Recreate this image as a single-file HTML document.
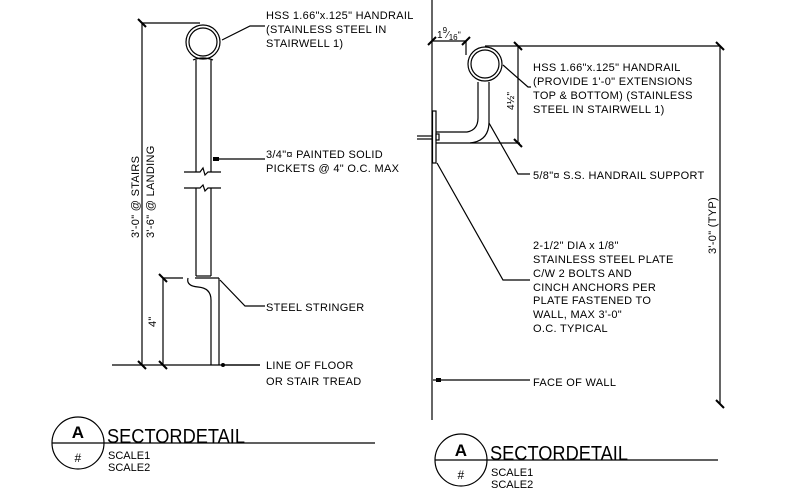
<!DOCTYPE html>
<html><head><meta charset="utf-8"><style>
html,body{margin:0;padding:0;background:#fff;}
svg{display:block;}
text{font-family:"Liberation Sans",sans-serif;font-size:11px;fill:#000;letter-spacing:0.3px;}
.t{font-size:20px;font-weight:300;letter-spacing:0;}
.s{font-size:11px;letter-spacing:0;}
</style></head><body>
<svg width="807" height="491" viewBox="0 0 807 491" xmlns="http://www.w3.org/2000/svg">
<g stroke="#000" stroke-width="1.2" fill="none">
<circle cx="203" cy="42" r="17"/>
<circle cx="203" cy="42" r="14"/>
<path d="M193 60 Q203 56 213 60"/>
<line x1="196" y1="60" x2="196" y2="172"/><line x1="211" y1="60" x2="211" y2="172"/>
<line x1="196" y1="188" x2="196" y2="276"/><line x1="211" y1="188" x2="211" y2="276"/>
<path d="M184 172 L200 172 L203 168 L205 175 L208 172 L221 172"/>
<path d="M184 188 L200 188 L203 185 L205 191 L208 188 L221 188"/>
<line x1="196" y1="276" x2="211" y2="276"/>
<line x1="195" y1="278" x2="219" y2="278"/>
<line x1="163" y1="278" x2="183" y2="278"/>
<path d="M188 278 Q186 286 198 287 Q211 288 211 300 L211 365"/>
<line x1="219" y1="278" x2="219" y2="365"/>
<line x1="112" y1="365" x2="260" y2="365"/>
<line x1="142" y1="23" x2="142" y2="365"/>
<line x1="142" y1="23" x2="200" y2="23"/>
<line x1="163" y1="278" x2="163" y2="365"/>
<g stroke-width="2">
<line x1="138" y1="19" x2="146" y2="27"/>
<line x1="138" y1="361" x2="146" y2="369"/>
<line x1="159" y1="274" x2="167" y2="282"/>
<line x1="159" y1="361" x2="167" y2="369"/>
</g>
<path d="M222 40 L250 26 L265 26"/>
<line x1="213" y1="159" x2="265" y2="159"/>
<path d="M220 280 L245 306 L265 306"/>
<line x1="223" y1="365" x2="260" y2="365"/>
<circle cx="78" cy="443" r="26"/>
<line x1="52" y1="443" x2="375" y2="443"/>

<line x1="432" y1="0" x2="432" y2="420"/>
<rect x="432.5" y="111" width="3.5" height="52"/>
<line x1="417" y1="136" x2="432" y2="136"/><line x1="417" y1="139" x2="432" y2="139"/>
<rect x="436" y="134" width="3" height="6"/>
<circle cx="485" cy="64" r="17"/>
<circle cx="485" cy="64" r="14"/>
<path d="M478 82 L478 118 Q478 130 467 132 L436 132"/>
<path d="M489 82 L489 122 Q489 141 470 143 L436 143"/>
<line x1="470" y1="143" x2="520" y2="143"/>
<line x1="432" y1="41" x2="466" y2="41"/>
<line x1="466" y1="41" x2="466" y2="55"/>
<line x1="485" y1="46" x2="720" y2="46"/>
<line x1="518" y1="46" x2="518" y2="143"/>
<line x1="720" y1="46" x2="720" y2="404"/>
<g stroke-width="2">
<line x1="428" y1="45" x2="436" y2="37"/>
<line x1="462" y1="45" x2="470" y2="37"/>
<line x1="514" y1="42" x2="522" y2="50"/>
<line x1="514" y1="139" x2="522" y2="147"/>
<line x1="716" y1="42" x2="724" y2="50"/>
<line x1="716" y1="400" x2="724" y2="408"/>
</g>
<path d="M503 65 L528 87 L531 87"/>
<path d="M489 123 L518 174 L530 174"/>
<path d="M437 163 L503 280 L530 280"/>
<line x1="433" y1="380" x2="530" y2="380"/>
<circle cx="461" cy="460" r="26"/>
<line x1="435" y1="460" x2="718" y2="460"/>
</g>
<g fill="#000">
<circle cx="223" cy="365" r="2"/>
<polygon points="213,157 219,157 219,161 213,161"/>
<polygon points="436,378 441,378 441,382 436,382"/>
</g>
<text transform="translate(139,238) rotate(-90)">3'-0" @ STAIRS</text>
<text transform="translate(154,238) rotate(-90)">3'-6" @ LANDING</text>
<text transform="translate(156,327) rotate(-90)">4"</text>
<text x="266" y="19">HSS 1.66"x.125" HANDRAIL</text>
<text x="266" y="33">(STAINLESS STEEL IN</text>
<text x="266" y="47">STAIRWELL 1)</text>
<text x="266" y="158">3/4"¤ PAINTED SOLID</text>
<text x="266" y="172">PICKETS @ 4" O.C. MAX</text>
<text x="266" y="311">STEEL STRINGER</text>
<text x="266" y="369">LINE OF FLOOR</text>
<text x="266" y="385">OR STAIR TREAD</text>
<text x="78" y="438" text-anchor="middle" style="font-size:17px;font-weight:bold">A</text>
<text x="78" y="462" text-anchor="middle" style="font-size:12px">#</text>
<text x="107" y="443" class="t" textLength="138" lengthAdjust="spacingAndGlyphs">SECTORDETAIL</text>
<text x="108" y="459" class="s">SCALE1</text>
<text x="108" y="471" class="s">SCALE2</text>
<text x="437" y="38" style="font-size:10px;letter-spacing:0">1<tspan dy="-5" style="font-size:8px">9</tspan><tspan dy="5" style="font-size:10px">⁄</tspan><tspan dy="2" style="font-size:8px">16</tspan><tspan dy="-2" style="font-size:9px">"</tspan></text>
<text transform="translate(514,110) rotate(-90)" style="font-size:10px">4½"</text>
<text x="533" y="71">HSS 1.66"x.125" HANDRAIL</text>
<text x="533" y="85">(PROVIDE 1'-0" EXTENSIONS</text>
<text x="533" y="99">TOP &amp; BOTTOM) (STAINLESS</text>
<text x="533" y="113">STEEL IN STAIRWELL 1)</text>
<text x="533" y="179">5/8"¤ S.S. HANDRAIL SUPPORT</text>
<text x="533" y="249">2-1/2" DIA x 1/8"</text>
<text x="533" y="263">STAINLESS STEEL PLATE</text>
<text x="533" y="277">C/W 2 BOLTS AND</text>
<text x="533" y="291">CINCH ANCHORS PER</text>
<text x="533" y="304">PLATE FASTENED TO</text>
<text x="533" y="318">WALL, MAX 3'-0"</text>
<text x="533" y="332">O.C. TYPICAL</text>
<text x="533" y="386">FACE OF WALL</text>
<text transform="translate(716,254) rotate(-90)">3'-0" (TYP)</text>
<text x="461" y="456" text-anchor="middle" style="font-size:17px;font-weight:bold">A</text>
<text x="461" y="479" text-anchor="middle" style="font-size:12px">#</text>
<text x="490" y="460" class="t" textLength="138" lengthAdjust="spacingAndGlyphs">SECTORDETAIL</text>
<text x="491" y="476" class="s">SCALE1</text>
<text x="491" y="488" class="s">SCALE2</text>
</svg>
</body></html>
